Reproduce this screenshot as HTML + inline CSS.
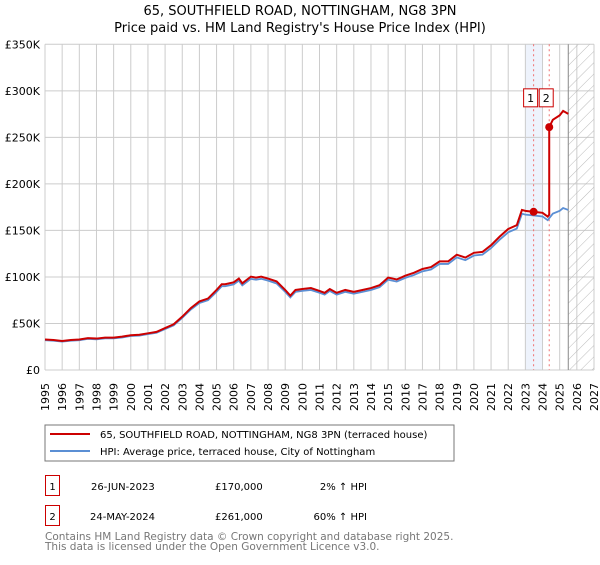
<!DOCTYPE html>
<html><head><meta charset="utf-8"><style>
body{margin:0;background:#fff;font-family:"Liberation Sans","DejaVu Sans",sans-serif}
svg text{font-family:"DejaVu Sans","Liberation Sans",sans-serif}
</style></head><body>
<svg id="c" width="600" height="560" xmlns="http://www.w3.org/2000/svg">
<defs><pattern id="hatch" width="8" height="8" patternUnits="userSpaceOnUse" patternTransform="rotate(45)"><line x1="0" y1="0" x2="0" y2="8" stroke="#bbb" stroke-width="1"/></pattern></defs>
<text x="300" y="15" text-anchor="middle" font-size="13">65, SOUTHFIELD ROAD, NOTTINGHAM, NG8 3PN</text>
<text x="300" y="32" text-anchor="middle" font-size="13">Price paid vs. HM Land Registry's House Price Index (HPI)</text>
<g id="grid"></g><g id="marks"></g><g id="axes"></g>
<rect x="45" y="425" width="409" height="36" fill="#fff" stroke="#777"/>
<line x1="50" y1="434" x2="90" y2="434" stroke="#cc0000" stroke-width="2"/>
<text x="100" y="438" font-size="10">65, SOUTHFIELD ROAD, NOTTINGHAM, NG8 3PN (terraced house)</text>
<line x1="50" y1="451" x2="90" y2="451" stroke="#5b8fd4" stroke-width="2"/>
<text x="100" y="455" font-size="10">HPI: Average price, terraced house, City of Nottingham</text>
<g font-size="10">
<rect x="45.5" y="475.5" width="14" height="20" fill="none" stroke="#cc0000"/>
<text x="52.5" y="490" text-anchor="middle">1</text>
<text x="91" y="490">26-JUN-2023</text>
<text x="215" y="490">£170,000</text>
<text x="367" y="490" text-anchor="end">2% ↑ HPI</text>
<rect x="45.5" y="505.5" width="14" height="20" fill="none" stroke="#cc0000"/>
<text x="52.5" y="520" text-anchor="middle">2</text>
<text x="90" y="520">24-MAY-2024</text>
<text x="215" y="520">£261,000</text>
<text x="367" y="520" text-anchor="end">60% ↑ HPI</text>
</g>
<text x="45" y="540" font-size="10.5" fill="#777">Contains HM Land Registry data © Crown copyright and database right 2025.</text>
<text x="45" y="550" font-size="10.5" fill="#777">This data is licensed under the Open Government Licence v3.0.</text>
</svg>
<script>
const years=[1995,1995.5,1996,1996.5,1997,1997.5,1998,1998.5,1999,1999.5,2000,2000.5,2001,2001.5,2002,2002.5,2003,2003.5,2004,2004.5,2005,2005.3,2005.5,2006,2006.3,2006.5,2007,2007.3,2007.6,2008,2008.5,2009,2009.3,2009.6,2010,2010.5,2011,2011.3,2011.6,2012,2012.5,2013,2013.5,2014,2014.5,2015,2015.5,2016,2016.5,2017,2017.5,2018,2018.5,2019,2019.5,2020,2020.5,2021,2021.5,2022,2022.5,2022.8,2023,2023.5,2024,2024.3,2024.6,2025,2025.2,2025.5];
const hpi=[32,31.5,30.5,31.5,32,33.5,33,34,34,35,36.5,37,38.5,40,44,48,56,65,72,75,84,90,90,92,96,91,98,97,98,96,93,84,78,84,85,86,83,81,85,81,84,82,84,86,89,97,95,99,102,106,108,114,114,121,118,123,124,131,140,148,152,168,167,166,165,161,168,171,174,172];
const saleYears=[2023.48,2024.39];
const salePrices=[170,261];
const yTicks=[0,50,100,150,200,250,300,350];
const yLabels=["£0","£50K","£100K","£150K","£200K","£250K","£300K","£350K"];
const X0=45,X1=594,Y0=370,Y1=44.3,YR0=1995,YR1=2027,VMAX=350;
const sx=y=>X0+(y-YR0)/(YR1-YR0)*(X1-X0);
const sy=v=>Y0-v/VMAX*(Y0-Y1);
const NS="http://www.w3.org/2000/svg";
function mk(t,a,p){const e=document.createElementNS(NS,t);for(const k in a)e.setAttribute(k,a[k]);p.appendChild(e);return e;}
function hpiAt(t){for(let i=1;i<years.length;i++){if(t<=years[i]){const f=(t-years[i-1])/(years[i]-years[i-1]);return hpi[i-1]+f*(hpi[i]-hpi[i-1]);}}return hpi[hpi.length-1];}
const grid=document.getElementById('grid'),marks=document.getElementById('marks'),axes=document.getElementById('axes');
let r=mk('rect',{x:sx(2023),y:Y1,width:sx(2024)-sx(2023),height:Y0-Y1,fill:'#eef3fc'},grid);


for(let y=YR0;y<=YR1;y++){const l=mk('line',{x1:sx(y),x2:sx(y),y1:Y1,y2:Y0,stroke:'#ccc'},grid);


const t=mk('text',{x:0,y:0,'font-size':11,'text-anchor':'end',transform:`translate(${sx(y)+4},${Y0+13}) rotate(-90)`},axes);t.textContent=y;

}
yTicks.forEach((v,i)=>{const l=mk('line',{x1:X0,x2:X1,y1:sy(v),y2:sy(v),stroke:'#ccc'},grid);


const t=mk('text',{x:X0-5,y:sy(v)+4,'font-size':11,'text-anchor':'end'},axes);t.textContent=yLabels[i];

});
const hx=sx(2025.5);
let h=mk('rect',{x:hx,y:Y1,width:X1-hx,height:Y0-Y1,fill:'url(#hatch)'},grid);


let hl=mk('line',{x1:hx,x2:hx,y1:Y1,y2:Y0,stroke:'#888'},grid);


saleYears.forEach((s,i)=>{const l=mk('line',{x1:sx(s),x2:sx(s),y1:Y1,y2:Y0,stroke:'#f07070','stroke-dasharray':'2,3'},grid);


const bx=sx(s)-10;const b=mk('rect',{x:bx,y:sy(300)-2,width:14,height:18,fill:'#fff',stroke:'#cc0000'},marks);


const t=mk('text',{x:bx+7,y:sy(300)+11,'font-size':11,'text-anchor':'middle'},marks);t.textContent=i+1;

});
let bp=years.map((y,i)=>sx(y)+','+sy(hpi[i])).join(' ');
let bl=mk('polyline',{points:bp,fill:'none',stroke:'#5b8fd4','stroke-width':1.8},marks);


const r1=salePrices[0]/hpiAt(saleYears[0]),r2=salePrices[1]/hpiAt(saleYears[1]);
let pts=[];years.forEach((y,i)=>{if(y<saleYears[1])pts.push([y,hpi[i]*r1]);});
pts.push([saleYears[1],hpiAt(saleYears[1])*r1]);pts.push([saleYears[1],salePrices[1]]);
years.forEach((y,i)=>{if(y>saleYears[1])pts.push([y,hpi[i]*r2]);});
let rl=mk('polyline',{points:pts.map(p=>sx(p[0])+','+sy(p[1])).join(' '),fill:'none',stroke:'#cc0000','stroke-width':2},marks);


saleYears.forEach((s,i)=>{const c=mk('circle',{cx:sx(s),cy:sy(salePrices[i]),r:4,fill:'#cc0000'},marks);

});
</script>
</body></html>
